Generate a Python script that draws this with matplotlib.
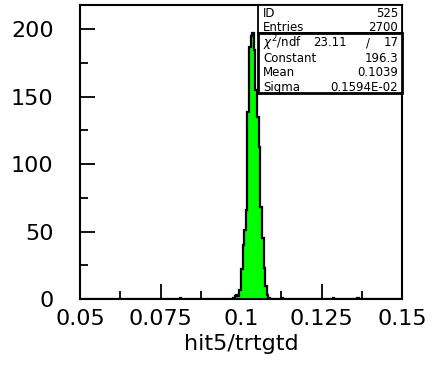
import matplotlib
matplotlib.use("Agg")
import matplotlib.pyplot as plt
import numpy as np

# histogram bin edges (non-uniform: wide empty stretches + fine peak bins)
edges = [0.05, 0.0810, 0.0815, 0.0975, 0.0980, 0.0985, 0.0990, 0.0995,
         0.1000, 0.1005, 0.1010, 0.1015, 0.1020, 0.1025, 0.1030, 0.1035,
         0.1040, 0.1045, 0.1050, 0.1055, 0.1060, 0.1065, 0.1070, 0.1075,
         0.1080, 0.1085, 0.1090, 0.1125, 0.1130, 0.1285, 0.1290, 0.1360,
         0.1365, 0.15]
counts = [0, 1, 0, 1, 2, 3, 2, 7,
          22, 40, 51, 66, 139, 187, 195, 197,
          185, 155, 135, 113, 68, 45, 23, 10,
          3, 1, 0, 1, 0, 1, 0, 1,
          0]

xticks = [0.05, 0.075, 0.1, 0.125, 0.15]
xticklabels = ["0.05", "0.075", "0.1", "0.125", "0.15"]
yticks = [0, 50, 100, 150, 200]
yticklabels = ["0", "50", "100", "150", "200"]

stats_top = [("ID", "525"), ("Entries", "2700")]
fit_rows = [("Constant", "196.3"), ("Mean", "0.1039"), ("Sigma", "0.1594E-02")]
chi2_val, ndf_val = "23.11", "17"

W, H = 434, 368
fig = plt.figure(figsize=(W / 100, H / 100), dpi=100)
ax = fig.add_axes([80 / W, 69 / H, 322 / W, 294 / H])

ax.stairs(counts, edges, fill=True, color="#00ff00", zorder=2)
ax.stairs(counts, edges, color="black", lw=1.6, zorder=3)

ax.set_xlim(0.05, 0.15)
ax.set_ylim(0, 218)

ax.set_xticks(xticks)
ax.set_xticklabels(xticklabels)
ax.set_yticks(yticks)
ax.set_yticklabels(yticklabels)
ax.set_xticks([0.0625, 0.0875, 0.1125, 0.1375], minor=True)
ax.set_yticks([25, 75, 125, 175], minor=True)
ax.tick_params(which="both", direction="in", top=False, right=False,
               width=1.3, colors="black")
ax.tick_params(which="major", length=11)
ax.tick_params(which="minor", length=5.5)
ax.tick_params(axis="x", which="major", labelsize=16, pad=7)
ax.tick_params(axis="y", which="major", labelsize=16, pad=19)
for sp in ax.spines.values():
    sp.set_linewidth(1.5)
ax.set_xlabel("hit5/trtgtd", fontsize=16, labelpad=4)

# stats box
bx0 = (257.7 - 80) / 322
y_div = (299 - 33.3) / 294
y_bot = (299 - 93.3) / 294
ax.add_patch(plt.Rectangle((bx0, y_div), 1 - bx0, 1 - y_div, transform=ax.transAxes,
                           facecolor="white", edgecolor="black", lw=1.3, zorder=5,
                           clip_on=False))
ax.add_patch(plt.Rectangle((bx0, y_bot), 1 - bx0, y_div - y_bot, transform=ax.transAxes,
                           facecolor="white", edgecolor="black", lw=2.0, zorder=5,
                           clip_on=False))

fs = 8.5
xl = (263.3 - 80) / 322
xr = (398.3 - 80) / 322
row_y = [(299 - 13.5) / 294, (299 - 27.5) / 294]
for (lab, val), yy in zip(stats_top, row_y):
    ax.text(xl, yy, lab, transform=ax.transAxes, fontsize=fs, ha="left", va="center", zorder=6)
    ax.text(xr, yy, val, transform=ax.transAxes, fontsize=fs, ha="right", va="center", zorder=6)

ychi = (299 - 43) / 294
ax.text(xl, ychi, r"$\chi^2$/ndf", transform=ax.transAxes, fontsize=fs, ha="left", va="center", zorder=6)
ax.text((330 - 80) / 322, ychi, chi2_val, transform=ax.transAxes, fontsize=fs, ha="center", va="center", zorder=6)
ax.text((368 - 80) / 322, ychi, "/", transform=ax.transAxes, fontsize=fs, ha="center", va="center", zorder=6)
ax.text(xr, ychi, ndf_val, transform=ax.transAxes, fontsize=fs, ha="right", va="center", zorder=6)

fit_y = [(299 - 58.5) / 294, (299 - 73) / 294, (299 - 87.5) / 294]
for (lab, val), yy in zip(fit_rows, fit_y):
    ax.text(xl, yy, lab, transform=ax.transAxes, fontsize=fs, ha="left", va="center", zorder=6)
    ax.text(xr, yy, val, transform=ax.transAxes, fontsize=fs, ha="right", va="center", zorder=6)

fig.savefig("out.png", dpi=100, facecolor="white")
